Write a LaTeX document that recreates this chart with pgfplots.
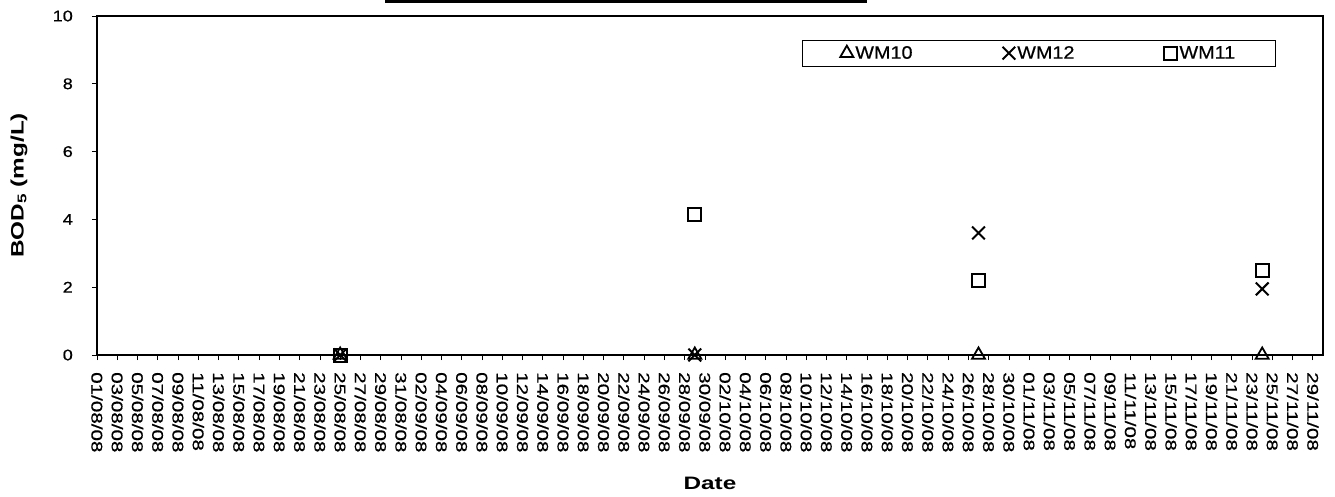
\documentclass[border=0pt]{standalone}
\usepackage{fontspec}
\setmainfont{Liberation Sans}
\newfontfamily\ytickfont[FakeStretch=1.16,FakeBold=0.6]{Liberation Sans}
\newfontfamily\xtickfont[FakeStretch=1.33,FakeBold=0.6]{Liberation Sans}
\newfontfamily\labfont[FakeStretch=1.35]{Liberation Sans}
\newfontfamily\legfont[FakeStretch=1.1,FakeBold=0.5]{Liberation Sans}
\usepackage{pgfplots}
\pgfplotsset{compat=1.18}
\begin{document}
\begin{tikzpicture}
\begin{axis}[
  scale only axis, width=1226pt, height=339pt,
  xmin=0, xmax=121, ymin=0, ymax=10,
  axis line style={line width=2pt},
  xtick={0,2,...,120},
  xticklabels={01/08/08,03/08/08,05/08/08,07/08/08,09/08/08,11/08/08,13/08/08,15/08/08,17/08/08,19/08/08,21/08/08,23/08/08,25/08/08,27/08/08,29/08/08,31/08/08,
    02/09/08,04/09/08,06/09/08,08/09/08,10/09/08,12/09/08,14/09/08,16/09/08,18/09/08,20/09/08,22/09/08,24/09/08,26/09/08,28/09/08,30/09/08,
    02/10/08,04/10/08,06/10/08,08/10/08,10/10/08,12/10/08,14/10/08,16/10/08,18/10/08,20/10/08,22/10/08,24/10/08,26/10/08,28/10/08,30/10/08,
    01/11/08,03/11/08,05/11/08,07/11/08,09/11/08,11/11/08,13/11/08,15/11/08,17/11/08,19/11/08,21/11/08,23/11/08,25/11/08,27/11/08,29/11/08},
  ytick={0,2,...,10},
  tick align=outside, major tick length=5pt,
  tick style={black, line width=0.8pt},
  xtick pos=left, ytick pos=left,
  /pgf/number format/assume math mode=true,
  yticklabel style={font=\ytickfont\fontsize{15.5pt}{15.5pt}\selectfont, inner sep=0pt, anchor=east},
  yticklabel shift=19pt,
  xticklabel style={font=\xtickfont\fontsize{15.5pt}{15.5pt}\selectfont, rotate=-90, anchor=west, inner sep=0pt},
  xticklabel shift=12pt,
  xlabel={\bfseries Date},
  ylabel={\bfseries BOD\textsubscript{5} (mg/L)},
  xlabel style={font=\labfont\fontsize{18pt}{18pt}\selectfont, at={(axis description cs:0.5,-0.378)}, anchor=center},
  ylabel style={font=\labfont\fontsize{18pt}{18pt}\selectfont, at={(axis description cs:-0.0636,0.5)}, anchor=center},
  legend columns=3,
  legend style={at={(axis description cs:0.575,0.93)}, anchor=north west, draw=black, line width=0.8pt,
    font=\legfont\fontsize{18pt}{18pt}\selectfont, inner xsep=38pt, inner ysep=4pt,
    /tikz/every even column/.append style={column sep=88pt}},
  legend image code/.code={\draw[mark repeat=2,mark phase=2,#1] plot coordinates {(0pt,0pt)(7pt,0pt)(14pt,0pt)};},
]
\addplot[only marks, mark=triangle, mark size=7.5pt, mark options={black, line width=1.8pt}] coordinates {(24,0) (59,0) (87,0) (115,0)};
\addlegendentry{WM10}
\addplot[only marks, mark=x, mark size=9pt, mark options={black, line width=2pt}] coordinates {(24,0) (59,0) (87,3.6) (115,1.95)};
\addlegendentry{WM12}
\addplot[only marks, mark=square, mark size=6.5pt, mark options={black, line width=2pt}] coordinates {(24,0) (59,4.15) (87,2.2) (115,2.5)};
\addlegendentry{WM11}
\end{axis}
\draw[line width=3pt] (288pt,353pt) -- (770pt,353pt);
\pgfresetboundingbox
\path[use as bounding box] (-97pt,-141pt) rectangle (1238pt,355pt);
\end{tikzpicture}
\end{document}
